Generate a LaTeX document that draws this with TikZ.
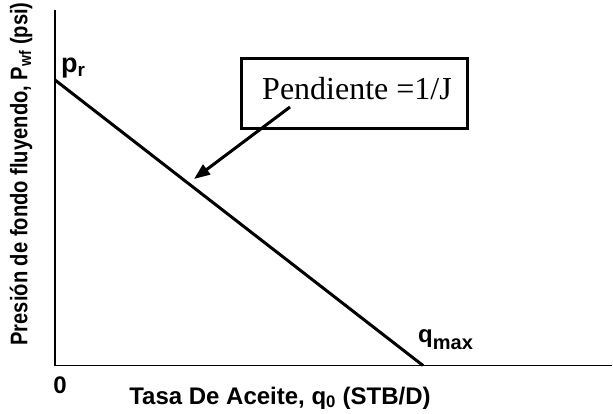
\documentclass[tikz,border=0pt]{standalone}
\usepackage{fontspec}
\setmainfont{Liberation Serif}
\newfontfamily\arialb{Liberation Sans Bold}
\usetikzlibrary{arrows.meta}
\begin{document}
\begin{tikzpicture}[x=1pt,y=-1pt,
  axis/.style={line width=1.6pt},
  lbl/.style={font=\arialb\fontsize{24}{28}\selectfont, inner sep=0pt},
  boxstyle/.style={draw, line width=3pt, inner sep=0pt},
  boxtext/.style={font=\fontsize{32}{36}\selectfont, inner sep=0pt}]
\useasboundingbox (0,0) rectangle (613,414);
\coordinate (o) at (55,365.5);
\coordinate (ytop) at (55,10);
\coordinate (xend) at (612,365.5);
\coordinate (pr) at (55,80);
\coordinate (qm) at (423,365.5);
\draw[axis] (ytop) -- (o) -- (xend);
\draw[line width=3pt] (pr) -- (qm);
\node[boxstyle, minimum width=226pt, minimum height=70pt] (box) at (354,94) {};
\node[boxtext, anchor=base] (boxt) at (357,100) {Pendiente =1/J};
\coordinate (astart) at (290,107);
\coordinate (atip) at (194,179);
\draw[line width=3pt, -{Triangle[length=16pt,width=12pt]}] (astart) -- (atip);
\node[lbl, anchor=base west, font=\arialb\fontsize{27}{30}\selectfont] (prl) at (61,73) {p\textsubscript{r}};
\node[lbl, anchor=base west] (qml) at (418,342) {q\raisebox{-7pt}{\fontsize{20}{22}\selectfont max}};
\node[lbl, anchor=center] (zero) at (60,385) {0};
\node[lbl, anchor=center] (xl) at (280,398) {Tasa De Aceite, q\textsubscript{0} (STB/D)};
\node[lbl, anchor=center, rotate=90] (yl) at (21,174) {\scalebox{0.84}[1]{Presión de fondo fluyendo, P\textsubscript{wf} (psi)}};
\end{tikzpicture}
\end{document}
